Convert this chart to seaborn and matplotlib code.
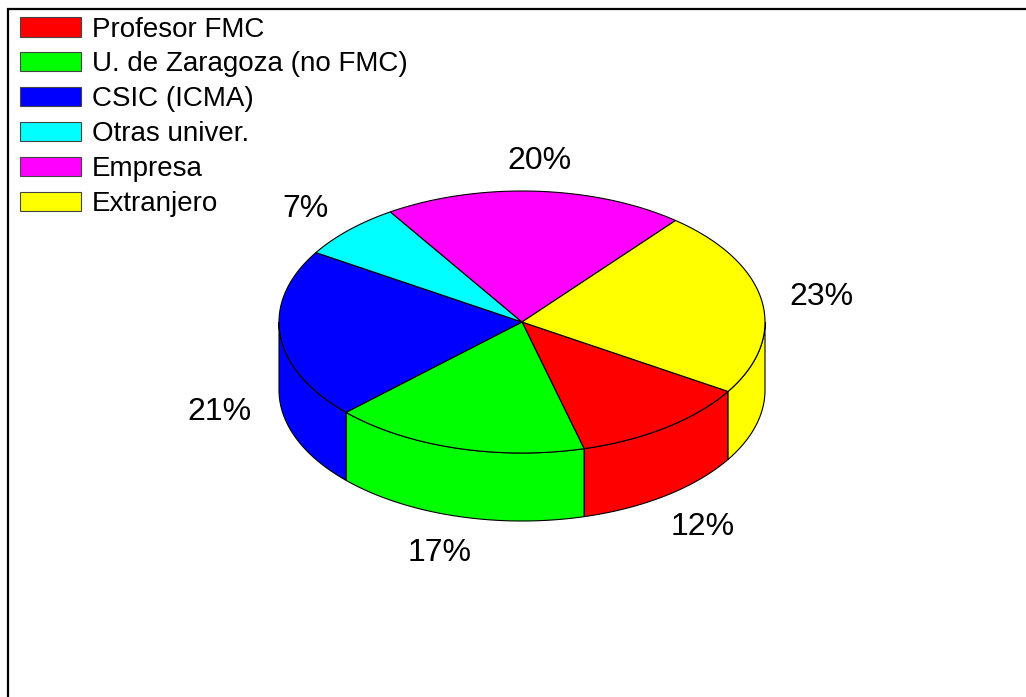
import numpy as np
import matplotlib
matplotlib.use("Agg")
import matplotlib.pyplot as plt
from matplotlib.patches import Polygon, Patch
import seaborn as sns

# ─── data ────────────────────────────────────────────────────────────────────
categories = ["Profesor FMC", "U. de Zaragoza (no FMC)", "CSIC (ICMA)",
              "Otras univer.", "Empresa", "Extranjero"]
shares = [12, 17, 21, 7, 20, 23]
colors = ["#FF0000", "#00FF00", "#0000FF", "#00FFFF", "#FF00FF", "#FFFF00"]

sns.set_style("white")
plt.rcParams["font.family"] = ["Liberation Sans", "DejaVu Sans"]
plt.rcParams["text.color"] = "black"

# pie geometry (pixel coords, y down)
CX, CY = 522, 322
RX, RY = 243, 131
DEPTH = 68
START = -32.0          # degrees, slices go clockwise

W, H = 1026, 697
fig = plt.figure(figsize=(W / 100, H / 100), dpi=100)
ax = fig.add_axes([0, 0, 1, 1])
ax.set_xlim(0, W)
ax.set_ylim(H, 0)
ax.axis("off")


def arc(t0, t1, n=120, dy=0):
    t = np.radians(np.linspace(t0, t1, n))
    return np.column_stack([CX + RX * np.cos(t), CY - RY * np.sin(t) + dy])


fracs = np.array(shares, dtype=float) / sum(shares)
bounds = START - 360 * np.concatenate([[0], np.cumsum(fracs)])

# side walls (front half only: angles in [-180, 0] mod 360)
for i, col in enumerate(colors):
    hi, lo = bounds[i], bounds[i + 1]
    for k in (-1, 0, 1):
        a = max(lo, -180 + 360 * k)
        b = min(hi, 0 + 360 * k)
        if b <= a:
            continue
        top = arc(a, b)
        bot = arc(b, a, dy=DEPTH)
        ax.add_patch(Polygon(np.vstack([top, bot]), closed=True,
                             facecolor=col, edgecolor="black", lw=0.8))

# top face
for i, col in enumerate(colors):
    hi, lo = bounds[i], bounds[i + 1]
    pts = np.vstack([[CX, CY], arc(hi, lo)])
    ax.add_patch(Polygon(pts, closed=True, facecolor=col,
                         edgecolor="black", lw=0.8))

# percentage labels
for i, s in enumerate(shares):
    mid = np.radians((bounds[i] + bounds[i + 1]) / 2)
    x = CX + 1.25 * RX * np.cos(mid)
    y = CY - 1.25 * RY * np.sin(mid) + 2
    if np.sin(mid) < 0:
        y += DEPTH + 3
    ax.text(x, y, f"{s}%", fontsize=23, ha="center", va="center",
            color="black")

# legend
handles = [Patch(facecolor=c, edgecolor="#444444", lw=0.8) for c in colors]
leg = ax.legend(handles, categories, loc="upper left",
                bbox_to_anchor=(14 / W, 1 - 11 / H), bbox_transform=fig.transFigure,
                frameon=False, fontsize=20, handlelength=2.2, handleheight=0.7,
                handletextpad=0.4, labelspacing=0.32, borderpad=0.2,
                borderaxespad=0, labelcolor="black")

# outer frame (only top and left are visible)
ax.plot([8, 8, W], [H, 9, 9], color="black", lw=1.6, solid_joinstyle="miter")

fig.savefig("out.png", dpi=100)
